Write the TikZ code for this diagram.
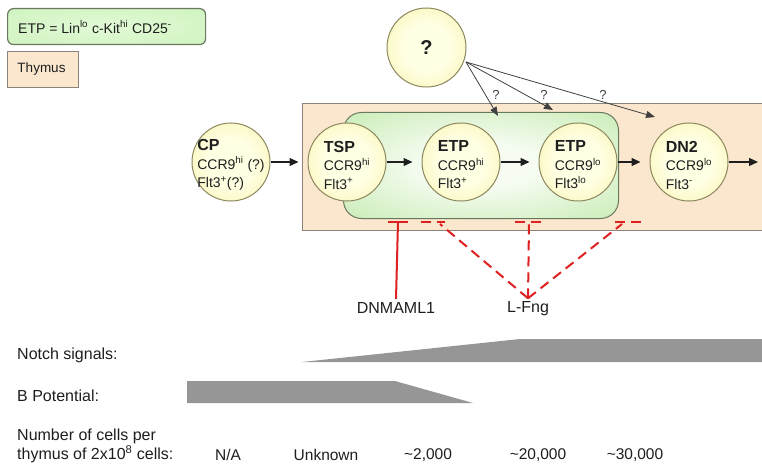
\documentclass[tikz,border=0pt]{standalone}
\usepackage{fontspec}
\setmainfont{Liberation Sans}
\usetikzlibrary{arrows.meta}
\definecolor{beige}{RGB}{250,231,206}
\definecolor{beigeline}{RGB}{140,132,122}
\definecolor{greenin}{RGB}{246,252,242}
\definecolor{greenout}{RGB}{178,228,150}
\definecolor{greenline}{RGB}{105,120,95}
\definecolor{leggreen}{RGB}{200,240,182}
\definecolor{legin}{RGB}{226,250,214}
\definecolor{yelin}{RGB}{255,255,228}
\definecolor{yelout}{RGB}{242,235,135}
\definecolor{yelline}{RGB}{140,135,95}
\definecolor{redl}{RGB}{222,32,32}
\definecolor{bargray}{RGB}{150,150,150}
\definecolor{ink}{RGB}{30,30,30}
\pgfdeclareradialshading{cellshade}{\pgfpoint{0bp}{0bp}}{color(0bp)=(yelin); color(15bp)=(yelin); color(50bp)=(yelout)}
\pgfdeclareradialshading{etpshade}{\pgfpoint{0bp}{0bp}}{color(0bp)=(greenin); color(10bp)=(greenin); color(50bp)=(greenout)}
\pgfdeclareradialshading{legshade}{\pgfpoint{0bp}{0bp}}{color(0bp)=(legin); color(50bp)=(leggreen)}
\begin{document}
\begin{tikzpicture}[x=1pt,y=-1pt,
  cell/.style={circle, draw=yelline, line width=1pt, shading=cellshade, minimum size=78pt, inner sep=0pt},
  celltext/.style={align=left, font=\fontsize{14}{18.5}\selectfont, text=ink, inner sep=0pt},
  arr/.style={draw=ink, line width=1.3pt, -{Triangle[length=9pt,width=8pt]}, shorten >=9pt},
  qarr/.style={draw=ink!85, line width=0.8pt, -{Triangle[length=9pt,width=7pt]}},
  qlab/.style={font=\fontsize{13}{13}\selectfont, text=ink!85, inner sep=0pt},
  redsolid/.style={draw=redl, line width=2pt},
  reddash/.style={draw=redl, line width=2pt, dash pattern=on 10pt off 6pt},
  bigtext/.style={font=\fontsize{16}{19}\selectfont, text=ink},
  numtext/.style={font=\fontsize{15.5}{19}\selectfont, text=ink},
  thymusbox/.style={draw=beigeline, fill=beige, line width=1.2pt, inner sep=0pt},
  etpbox/.style={draw=greenline, line width=1pt, shading=etpshade, rounded corners=18pt, inner sep=0pt},
  legbox/.style={draw=greenline, line width=1.2pt, shading=legshade, rounded corners=6pt, inner sep=0pt}
]
\useasboundingbox (0,0) rectangle (762,468);

% legends
\node[legbox, anchor=north west, minimum width=198pt, minimum height=36pt] (leg1) at (7,8) {};
\node[anchor=west, font=\fontsize{14}{16}\selectfont, text=ink, inner sep=0pt] (leg1t) at (18,27)
  {ETP = Lin\textsuperscript{lo} c-Kit\textsuperscript{hi} CD25\textsuperscript{-}};
\node[thymusbox, anchor=north west, minimum width=71pt, minimum height=36pt] (leg2) at (7,51) {};
\node[font=\fontsize{13.5}{16}\selectfont, text=ink] (leg2t) at (41.5,69.5) {Thymus};

% thymus and ETP region
\node[thymusbox, anchor=north west, minimum width=480pt, minimum height=127pt] (thymus) at (302,103) {};
\node[etpbox, anchor=north west, minimum width=275pt, minimum height=106pt] (etpregion) at (343,112) {};

% cells
\node[cell] (cp)   at (231,162) {};
\node[cell] (tsp)  at (347,162) {};
\node[cell] (etp1) at (461,162) {};
\node[cell] (etp2) at (578,162) {};
\node[cell] (dn2)  at (689,162) {};
\node[cell, minimum size=79pt] (q) at (426.5,47.5) {};

\node[celltext, yshift=-3pt] (cpt) at (cp)
  {{\bfseries\fontsize{16}{18.5}\selectfont CP}\\CCR9\textsuperscript{hi} (?)\\Flt3\textsuperscript{+}(?)};
\node[celltext, yshift=-3pt] (tspt) at (tsp)
  {{\bfseries\fontsize{16}{18.5}\selectfont TSP}\\CCR9\textsuperscript{hi}\\Flt3\textsuperscript{+}};
\node[celltext, yshift=-3pt] (etp1t) at (etp1)
  {{\bfseries\fontsize{16}{18.5}\selectfont ETP}\\CCR9\textsuperscript{hi}\\Flt3\textsuperscript{+}};
\node[celltext, yshift=-3pt] (etp2t) at (etp2)
  {{\bfseries\fontsize{16}{18.5}\selectfont ETP}\\CCR9\textsuperscript{lo}\\Flt3\textsuperscript{lo}};
\node[celltext, yshift=-3pt] (dn2t) at (dn2)
  {{\bfseries\fontsize{16}{18.5}\selectfont DN2}\\CCR9\textsuperscript{lo}\\Flt3\textsuperscript{-}};
\node[font=\bfseries\fontsize{20}{20}\selectfont, text=ink] (qt) at (q) {?};

% lineage arrows
\coordinate (outend) at (758,162);
\draw[arr] (cp) -- (tsp);
\draw[arr] (tsp) -- (etp1);
\draw[arr] (etp1) -- (etp2);
\draw[arr] (etp2) -- (dn2);
\draw[arr, shorten >=0pt] (dn2) -- (outend);

% question arrows
\coordinate (qs) at (466,62);
\coordinate (qa) at (498,116);
\coordinate (qb) at (553,110);
\coordinate (qc) at (655,117);
\draw[qarr] (qs) -- (qa);
\draw[qarr] (qs) -- (qb);
\draw[qarr] (qs) -- (qc);
\node[qlab] (qla) at (496,95) {?};
\node[qlab] (qlb) at (544,95) {?};
\node[qlab] (qlc) at (603,95) {?};

% DNMAML1
\node[bigtext] (dnm) at (396,308) {DNMAML1};
\coordinate (dnbarl) at (388,222);
\coordinate (dnbarr) at (408,222);
\coordinate (dnbar) at (398,222);
\draw[redsolid] (dnbarl) -- (dnbarr);
\draw[redsolid] (dnbar) -- (dnm.north);

% L-Fng
\node[bigtext] (lfng) at (528,309) {L-Fng};
\coordinate (lfa) at (440,224);
\coordinate (lfb) at (529,224);
\coordinate (lfc) at (622,224);
\draw[reddash] (421,222) -- (445,222);
\draw[reddash] (515,222) -- (541,222);
\draw[reddash] (615,222) -- (641,222);
\draw[reddash] (lfng.north) -- (lfa);
\draw[reddash] (lfng.north) -- (lfb);
\draw[reddash] (lfng.north) -- (lfc);

% bottom panel
\node[bigtext, anchor=west, inner sep=0pt] (notch) at (17,355) {Notch signals:};
\fill[bargray] (302,362) -- (520,339) -- (762,339) -- (762,362) -- cycle;
\node[bigtext, anchor=west, inner sep=0pt] (bpot) at (17,396) {B Potential:};
\fill[bargray] (187,381) -- (395,381) -- (473,403) -- (187,403) -- cycle;
\node[bigtext, anchor=west, align=left, inner sep=0pt] (numlab) at (17,446)
  {Number of cells per\\thymus of 2x10\textsuperscript{8} cells:};
\node[numtext] (n1) at (228,455) {N/A};
\node[numtext] (n2) at (326,455) {Unknown};
\node[numtext] (n3) at (428,455) {\textasciitilde 2,000};
\node[numtext] (n4) at (538,455) {\textasciitilde 20,000};
\node[numtext] (n5) at (635,455) {\textasciitilde 30,000};
\end{tikzpicture}
\end{document}
